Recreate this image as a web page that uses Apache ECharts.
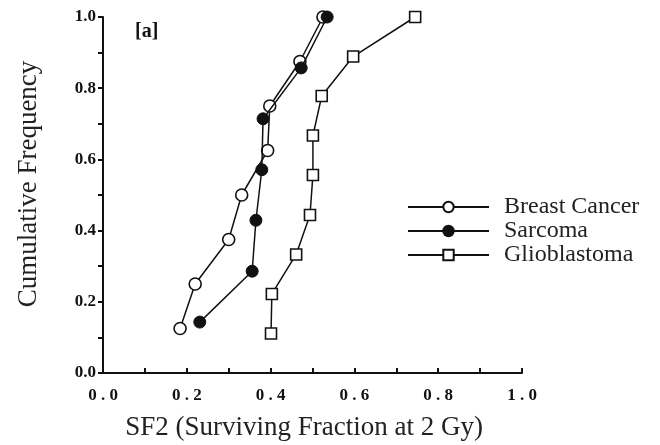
<!DOCTYPE html>
<html>
<head>
<meta charset="utf-8">
<script src="https://cdn.jsdelivr.net/npm/echarts@6/dist/echarts.min.js"></script>
<style>
    html, body { margin: 0; padding: 0; background: #fff; }
    #chart { width: 660px; height: 445px; }
</style>
</head>
<body>
<div id="chart"></div>
<script>
    // SF2 values, cumulative frequency = rank / n
    var breastSF2 = [0.184, 0.22, 0.30, 0.331, 0.393, 0.398, 0.47, 0.525]
    var breastFreq = [0.125, 0.25, 0.375, 0.5, 0.625, 0.75, 0.875, 1.0]
    var sarcomaSF2 = [0.231, 0.356, 0.365, 0.379, 0.382, 0.473, 0.535]
    var sarcomaFreq = [0.143, 0.286, 0.429, 0.571, 0.714, 0.857, 1.0]
    var glioSF2 = [0.401, 0.403, 0.461, 0.494, 0.501, 0.501, 0.522, 0.597, 0.745]
    var glioFreq = [0.111, 0.222, 0.333, 0.444, 0.556, 0.667, 0.778, 0.889, 1.0]
    var seriesNames = ['Breast Cancer', 'Sarcoma', 'Glioblastoma']

    function pairs(xs, ys) {
        var out = []
        for (var i = 0; i < xs.length; i++) out.push([xs[i], ys[i]])
        return out
    }

    // only label every 0.2
    function tickLabel(v, spaced) {
        var k = Math.round(v * 10)
        if (k % 2 !== 0) return ''
        var s = v.toFixed(1)
        return spaced ? s.split('').join(' ') : s
    }

    var serif = '"Liberation Serif", "DejaVu Serif", serif'

    var myChart = echarts.init(document.getElementById('chart'))
    var option = {
        animation: false,
        grid: { left: 103, right: 138, top: 17, bottom: 72 },
        legend: {
            orient: 'vertical',
            left: 402,
            top: 190,
            itemWidth: 81,
            itemHeight: 13,
            itemGap: 0,
            data: seriesNames,
            textStyle: { fontFamily: serif, fontSize: 24, lineHeight: 23, color: '#222', padding: [0, 0, 0, 10] }
        },
        graphic: [
            {
                type: 'text',
                left: 135,
                top: 22,
                style: { text: '[a]', font: 'bold 20px ' + serif, fill: '#111' }
            },
            {
                type: 'text',
                x: 29,
                y: 184,
                rotation: Math.PI / 2,
                style: {
                    text: 'Cumulative Frequency',
                    font: '27px ' + serif,
                    fill: '#222',
                    align: 'center',
                    verticalAlign: 'middle'
                }
            },
            {
                type: 'text',
                x: 304,
                y: 428,
                style: {
                    text: 'SF2 (Surviving Fraction at 2 Gy)',
                    font: '27px ' + serif,
                    fill: '#222',
                    align: 'center',
                    verticalAlign: 'middle'
                }
            }
        ],
        xAxis: {
            type: 'value',
            min: 0,
            max: 1,
            interval: 0.1,
            axisLine: { lineStyle: { color: '#111', width: 2 } },
            axisTick: { inside: true, length: 5, lineStyle: { color: '#111', width: 2 } },
            splitLine: { show: false },
            axisLabel: {
                margin: 14,
                fontFamily: serif,
                fontWeight: 'bold',
                fontSize: 17,
                color: '#111',
                formatter: function (v) { return tickLabel(v, true) }
            }
        },
        yAxis: {
            type: 'value',
            min: 0,
            max: 1,
            interval: 0.1,
            axisLine: { lineStyle: { color: '#111', width: 2 } },
            axisTick: { length: 5, lineStyle: { color: '#111', width: 2 } },
            splitLine: { show: false },
            axisLabel: {
                margin: 7,
                fontFamily: serif,
                fontWeight: 'bold',
                fontSize: 17,
                color: '#111',
                formatter: function (v) { return tickLabel(v, false) }
            }
        },
        series: [
            {
                name: seriesNames[0],
                type: 'line',
                data: pairs(breastSF2, breastFreq),
                symbol: 'circle',
                symbolSize: 12,
                lineStyle: { color: '#111', width: 1.5 },
                itemStyle: { color: '#fff', borderColor: '#111', borderWidth: 1.6 },
                z: 3
            },
            {
                name: seriesNames[1],
                type: 'line',
                data: pairs(sarcomaSF2, sarcomaFreq),
                symbol: 'circle',
                symbolSize: 12,
                lineStyle: { color: '#111', width: 1.5 },
                itemStyle: { color: '#111', borderColor: '#111', borderWidth: 1 },
                z: 4
            },
            {
                name: seriesNames[2],
                type: 'line',
                data: pairs(glioSF2, glioFreq),
                symbol: 'rect',
                symbolSize: 11,
                lineStyle: { color: '#111', width: 1.5 },
                itemStyle: { color: '#fff', borderColor: '#111', borderWidth: 1.6 },
                z: 3
            }
        ]
    }
    myChart.setOption(option)
</script>
</body>
</html>
